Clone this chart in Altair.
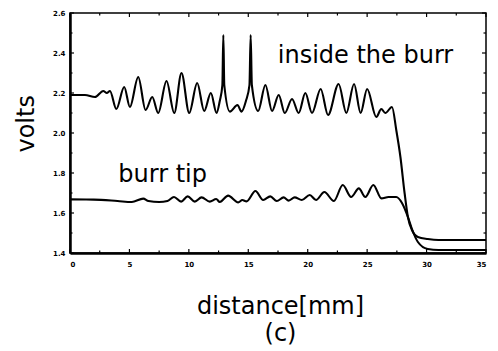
import altair as alt
import pandas as pd

# ---- data ----
upper_x = [0, 1.26, 2.1, 2.8, 3.1, 3.36, 3.9, 4.56, 5.04, 5.74, 6.36, 6.92, 7.42, 8.12, 8.77,
           9.38, 10.03, 10.7, 11.29, 11.85, 12.33, 12.6, 12.82, 12.9, 12.98, 13.45, 14.09,
           14.43, 14.8, 15.1, 15.2, 15.3, 15.83, 16.44, 17.0, 17.56, 18.07, 18.68, 19.24,
           19.8, 20.36, 21.09, 21.71, 22.6, 23.25, 23.9, 24.45, 25.0, 25.77, 26.19, 26.53,
           27.09, 27.45, 27.8, 28.15, 28.43, 28.77, 29.27, 30.1, 31.0, 35.0]
upper_y = [2.19, 2.19, 2.18, 2.21, 2.20, 2.21, 2.12, 2.23, 2.13, 2.28, 2.115, 2.18, 2.10,
           2.26, 2.10, 2.30, 2.10, 2.25, 2.11, 2.20, 2.10, 2.16, 2.24, 2.49, 2.24, 2.107,
           2.14, 2.107, 2.16, 2.24, 2.49, 2.24, 2.11, 2.24, 2.11, 2.19, 2.10, 2.17, 2.10,
           2.20, 2.10, 2.22, 2.09, 2.245, 2.10, 2.245, 2.10, 2.22, 2.08, 2.12, 2.10, 2.13,
           2.015, 1.88, 1.70, 1.58, 1.515, 1.48, 1.47, 1.465, 1.465]

lower_x = [0, 2, 4, 5.2, 6.16, 6.6, 7.5, 8.2, 8.75, 9.35, 9.9, 10.5, 11.07, 11.76, 12.3,
           12.6, 13.3, 14.15, 14.5, 14.85, 15.6, 16.25, 16.85, 17.4, 17.97, 18.4, 18.9,
           19.5, 20.17, 20.7, 21.4, 22.2, 22.95, 23.65, 24.3, 24.85, 25.52, 26.2, 26.8,
           27.45, 27.93, 28.43, 28.77, 29.27, 30.1, 31.0, 35.0]
lower_y = [1.668, 1.667, 1.66, 1.655, 1.672, 1.66, 1.655, 1.66, 1.68, 1.657, 1.683, 1.657,
           1.678, 1.657, 1.67, 1.655, 1.687, 1.653, 1.665, 1.658, 1.71, 1.665, 1.683, 1.66,
           1.678, 1.662, 1.678, 1.665, 1.69, 1.665, 1.705, 1.66, 1.74, 1.68, 1.723, 1.68,
           1.74, 1.673, 1.68, 1.68, 1.65, 1.58, 1.52, 1.455, 1.42, 1.415, 1.415]

x_major = [0, 5, 10, 15, 20, 25, 30, 35]
x_minor = [2.5, 7.5, 12.5, 17.5, 22.5, 27.5, 32.5]
y_major = [1.4, 1.6, 1.8, 2.0, 2.2, 2.4, 2.6]
y_minor = [1.5, 1.7, 1.9, 2.1, 2.3, 2.5]

note_text = ["inside the burr", "burr tip"]
note_x = [17.48, 4.06]
note_y = [2.348, 1.7565]

# ---- tables ----
lines = pd.concat([
    pd.DataFrame({"x": upper_x, "y": upper_y, "series": "inside"}),
    pd.DataFrame({"x": lower_x, "y": lower_y, "series": "tip"}),
])
notes = pd.DataFrame({"x": note_x, "y": note_y, "label": note_text})

FONT = "DejaVu Sans"
W, H = 416, 240

X = alt.X("x:Q", scale=alt.Scale(domain=[0, 35], nice=False, zero=False),
          axis=alt.Axis(values=x_major, format="d", title=["distance[mm]", "(c)"],
                        titleX=210, titleY=60, titleAlign="center",
                        titleBaseline="alphabetic", titleLineHeight=27,
                        labelPadding=7, labelBaseline="top"))
Y = alt.Y("y:Q", scale=alt.Scale(domain=[1.4, 2.6], nice=False, zero=False),
          axis=alt.Axis(values=y_major, format=".1f", title="volts",
                        titleX=-36.7, titleY=110.3, titleAngle=270,
                        titleAlign="center", titleBaseline="alphabetic",
                        labelPadding=5, labelBaseline="middle"))

line_layer = alt.Chart(lines).mark_line(
    color="black", strokeWidth=2.1, interpolate="monotone"
).encode(x=X, y=Y, detail="series:N")

text_layer = alt.Chart(notes).mark_text(
    align="left", baseline="alphabetic", font=FONT, fontSize=24, color="black"
).encode(x=X, y=Y, text="label:N")


def xticks(vals, length):
    d = pd.DataFrame({"x": vals})
    bottom = alt.Chart(d).mark_rule(color="black", strokeWidth=1.2).encode(
        x=X, y=alt.value(H), y2=alt.value(H - length))
    top = alt.Chart(d).mark_rule(color="black", strokeWidth=1.2).encode(
        x=X, y=alt.value(0), y2=alt.value(length))
    return [bottom, top]


def yticks(vals, length):
    d = pd.DataFrame({"y": vals})
    left = alt.Chart(d).mark_rule(color="black", strokeWidth=1.2).encode(
        y=Y, x=alt.value(0), x2=alt.value(length))
    right = alt.Chart(d).mark_rule(color="black", strokeWidth=1.2).encode(
        y=Y, x=alt.value(W), x2=alt.value(W - length))
    return [left, right]


tick_layers = xticks(x_major, 4) + xticks(x_minor, 2.5) + yticks(y_major, 4) + yticks(y_minor, 2.5)

chart = alt.layer(line_layer, text_layer, *tick_layers).properties(
    width=W, height=H,
    autosize=alt.AutoSizeParams(type="none"),
    padding={"left": 62, "top": 5, "right": 4, "bottom": 95},
    background="white",
).configure_axis(
    grid=False, ticks=False, tickSize=0,
    domainColor="black", domainWidth=2.5,
    labelFont=FONT, labelFontSize=7, labelFontWeight="bold", labelColor="black",
    titleFont=FONT, titleFontSize=24, titleFontWeight="normal", titleColor="black",
).configure_view(stroke="black", strokeWidth=1.5)

chart.save("out.html", embed_options={"renderer": "svg", "actions": False})
